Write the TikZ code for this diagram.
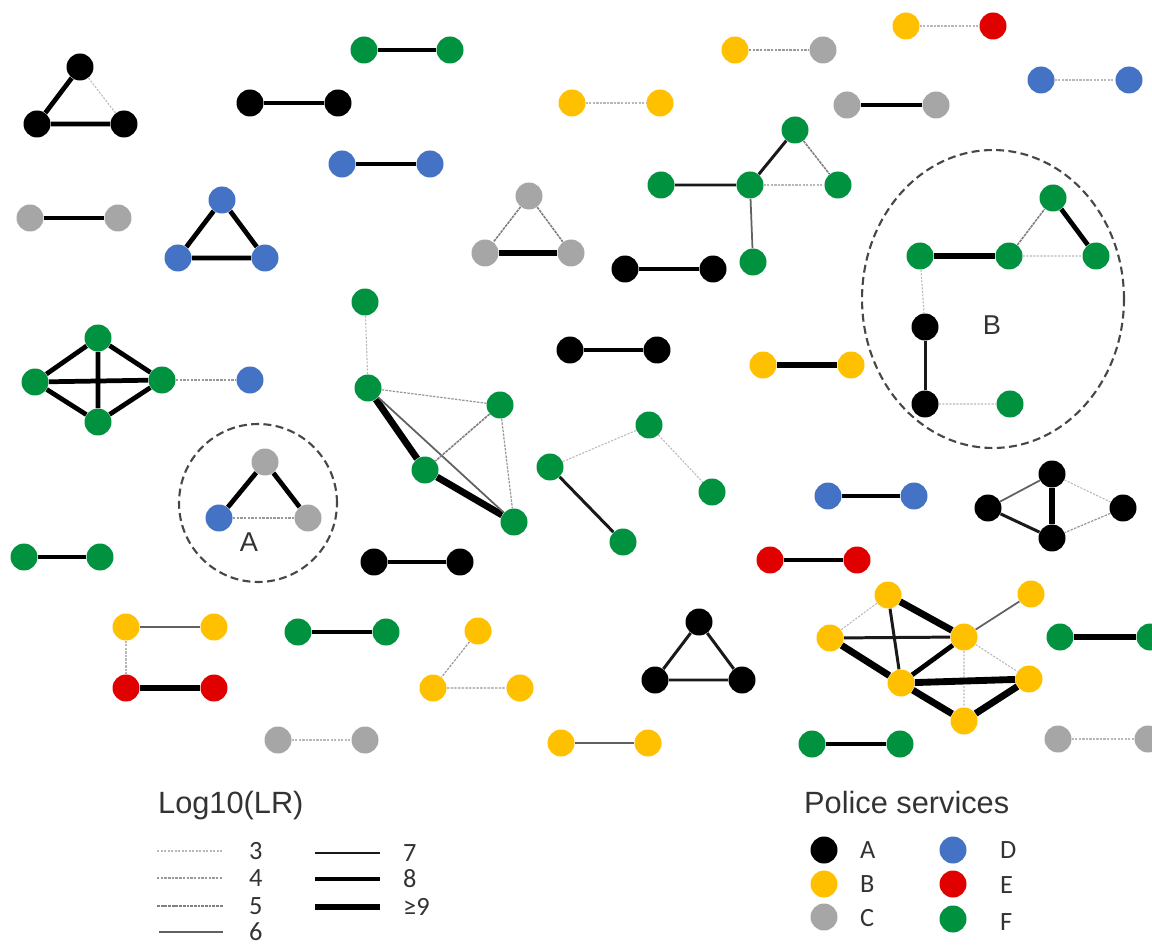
\documentclass[tikz,border=0pt]{standalone}
\usepackage{fontspec}
\usetikzlibrary{shapes.geometric}
\setmainfont{Liberation Sans}
\newfontfamily\calfont{Carlito}
\begin{document}
\begin{tikzpicture}[x=0.02cm,y=-0.02cm,
  nd/.style={circle,inner sep=0pt,minimum size=0.54cm,draw=none},
  nA/.style={nd,fill=black},
  nB/.style={nd,fill=yelB},
  nC/.style={nd,fill=grayC},
  nD/.style={nd,fill=blueD},
  nE/.style={nd,fill=redE},
  nF/.style={nd,fill=greenF},
  w3/.style={draw=black!28,line width=0.6pt,dash pattern=on 1.2pt off 0.8pt},
  w4/.style={draw=black!40,line width=0.7pt,dash pattern=on 1.4pt off 0.7pt},
  w5/.style={draw=black!50,line width=0.9pt,dash pattern=on 1.6pt off 0.5pt},
  w6/.style={draw=black!62,line width=1pt},
  w7/.style={draw=black!90,line width=1.7pt},
  w8/.style={draw=black,line width=2.7pt},
  w9/.style={draw=black,line width=3.9pt},
  grp/.style={draw=black!72,line width=1.2pt,dash pattern=on 4.5pt off 2.5pt},
  ttl/.style={font=\fontsize{17.5}{20}\selectfont,text=black!80},
  lbl/.style={font=\calfont\fontsize{15}{17}\selectfont,text=black!80,anchor=west},
  glbl/.style={font=\fontsize{15.5}{18}\selectfont,text=black!80}
]
\definecolor{yelB}{HTML}{FFC000}
\definecolor{grayC}{HTML}{A6A6A6}
\definecolor{blueD}{HTML}{4472C4}
\definecolor{redE}{HTML}{E00000}
\definecolor{greenF}{HTML}{00923F}
\useasboundingbox (0,0) rectangle (1152,945);

% 1 black triangle
\node[nA] (a1) at (80,67) {};
\node[nA] (a2) at (37,124) {};
\node[nA] (a3) at (124,124) {};
\draw[w8] (a1)--(a2) (a2)--(a3);
\draw[w3] (a1)--(a3);
% 2 black pair
\node[nA] (b1) at (250,103) {};
\node[nA] (b2) at (338,103) {};
\draw[w8] (b1)--(b2);
% 3 green pair
\node[nF] (c1) at (364,50) {};
\node[nF] (c2) at (450,50) {};
\draw[w8] (c1)--(c2);
% 4 blue pair
\node[nD] (d1) at (342,164) {};
\node[nD] (d2) at (430,164) {};
\draw[w8] (d1)--(d2);
% 5 gray pair
\node[nC] (e1) at (30,218) {};
\node[nC] (e2) at (118,218) {};
\draw[w8] (e1)--(e2);
% 6 blue triangle
\node[nD] (f1) at (222,200) {};
\node[nD] (f2) at (178,258) {};
\node[nD] (f3) at (265,258) {};
\draw[w8] (f1)--(f2) (f2)--(f3) (f1)--(f3);
% 7 gray triangle
\node[nC] (g1) at (529,196) {};
\node[nC] (g2) at (485,253) {};
\node[nC] (g3) at (571,253) {};
\draw[w5] (g1)--(g2) (g1)--(g3);
\draw[w9] (g2)--(g3);
% 8 yellow pair
\node[nB] (h1) at (572,103) {};
\node[nB] (h2) at (660,103) {};
\draw[w3] (h1)--(h2);
% 9 yellow-gray
\node[nB] (i1) at (735,50) {};
\node[nC] (i2) at (823,50) {};
\draw[w4] (i1)--(i2);
% 10 yellow-red
\node[nB] (j1) at (906,26) {};
\node[nE] (j2) at (993,26) {};
\draw[w3] (j1)--(j2);
% 11 blue pair
\node[nD] (k1) at (1041,80) {};
\node[nD] (k2) at (1129,80) {};
\draw[w3] (k1)--(k2);
% 12 gray pair
\node[nC] (l1) at (847,105) {};
\node[nC] (l2) at (936,105) {};
\draw[w8] (l1)--(l2);
% 13 green star
\node[nF] (m1) at (795,130) {};
\node[nF] (m2) at (661,185) {};
\node[nF] (m3) at (750,185) {};
\node[nF] (m4) at (838,185) {};
\node[nF] (m5) at (753,262) {};
\draw[w7] (m2)--(m3) (m3)--(m1);
\draw[w5] (m1)--(m4);
\draw[w3] (m3)--(m4);
\draw[w6] (m3)--(m5);
% 14 black pair
\node[nA] (n1) at (625,269) {};
\node[nA] (n2) at (713,269) {};
\draw[w8] (n1)--(n2);
% 15 group B
\node[nF] (o1) at (920,256) {};
\node[nF] (o2) at (1009,256) {};
\node[nF] (o3) at (1053,198) {};
\node[nF] (o4) at (1096,256) {};
\node[nA] (o5) at (925,327) {};
\node[nA] (o6) at (925,404) {};
\node[nF] (o7) at (1010,404) {};
\draw[w9] (o1)--(o2);
\draw[w5] (o2)--(o3);
\draw[w8] (o3)--(o4);
\draw[w3] (o2)--(o4) (o1)--(o5) (o6)--(o7);
\draw[w7] (o5)--(o6);
\node[grp,ellipse,minimum width=5.24cm,minimum height=5.96cm] (grpB) at (993,299) {};
\node[glbl] (labB) at (992,325) {B};
% 16 black pair
\node[nA] (p1) at (570,350) {};
\node[nA] (p2) at (657,350) {};
\draw[w8] (p1)--(p2);
% 17 yellow pair
\node[nB] (q1) at (763,365) {};
\node[nB] (q2) at (851,365) {};
\draw[w9] (q1)--(q2);
% 18 green K4 + blue
\node[nF] (r1) at (98,338) {};
\node[nF] (r2) at (35,382) {};
\node[nF] (r3) at (162,380) {};
\node[nF] (r4) at (98,422) {};
\node[nD] (r5) at (250,380) {};
\draw[w8] (r1)--(r2) (r1)--(r3) (r1)--(r4) (r2)--(r3) (r2)--(r4) (r3)--(r4);
\draw[w4] (r3)--(r5);
% 19 green middle
\node[nF] (s1) at (365,302) {};
\node[nF] (s2) at (368,388) {};
\node[nF] (s3) at (500,405) {};
\node[nF] (s4) at (425,470) {};
\node[nF] (s5) at (514,522) {};
\draw[w3] (s1)--(s2);
\draw[w4] (s2)--(s3) (s3)--(s5);
\draw[w9] (s2)--(s4) (s4)--(s5);
\draw[w6] (s2)--(s5);
\draw[w5] (s3)--(s4);
% 20 green path
\node[nF] (t1) at (649,425) {};
\node[nF] (t2) at (550,467) {};
\node[nF] (t3) at (712,492) {};
\node[nF] (t4) at (623,542) {};
\draw[w3] (t2)--(t1) (t1)--(t3);
\draw[w7] (t2)--(t4);
% 21 group A
\node[nC] (u1) at (265,462) {};
\node[nD] (u2) at (219,518) {};
\node[nC] (u3) at (308,518) {};
\draw[w8] (u1)--(u2) (u1)--(u3);
\draw[w4] (u2)--(u3);
\node[grp,circle,minimum size=3.16cm] (grpA) at (258,503) {};
\node[glbl] (labA) at (249,542) {A};
% 22 blue pair
\node[nD] (v1) at (828,496) {};
\node[nD] (v2) at (914,496) {};
\draw[w8] (v1)--(v2);
% 23 black diamond
\node[nA] (x1) at (1052,474) {};
\node[nA] (x2) at (988,508) {};
\node[nA] (x3) at (1123,508) {};
\node[nA] (x4) at (1052,538) {};
\draw[w6] (x1)--(x2);
\draw[w7] (x2)--(x4);
\draw[w9] (x1)--(x4);
\draw[w3] (x1)--(x3);
\draw[w4] (x3)--(x4);
% 24 green pair
\node[nF] (y1) at (24,557) {};
\node[nF] (y2) at (100,557) {};
\draw[w8] (y1)--(y2);
% 25 black pair
\node[nA] (z1) at (374,562) {};
\node[nA] (z2) at (460,562) {};
\draw[w8] (z1)--(z2);
% 26 red pair
\node[nE] (aa1) at (770,560) {};
\node[nE] (aa2) at (857,560) {};
\draw[w8] (aa1)--(aa2);
% 27 yellow/red
\node[nB] (ab1) at (126,627) {};
\node[nB] (ab2) at (214,627) {};
\node[nE] (ab3) at (126,688) {};
\node[nE] (ab4) at (214,688) {};
\draw[w6] (ab1)--(ab2);
\draw[w3] (ab1)--(ab3);
\draw[w9] (ab3)--(ab4);
% 28 green pair
\node[nF] (ac1) at (298,632) {};
\node[nF] (ac2) at (386,632) {};
\draw[w8] (ac1)--(ac2);
% 29 yellow trio
\node[nB] (ad1) at (478,631) {};
\node[nB] (ad2) at (433,688) {};
\node[nB] (ad3) at (520,688) {};
\draw[w4] (ad1)--(ad2) (ad2)--(ad3);
% 30 black triangle
\node[nA] (ae1) at (699,622) {};
\node[nA] (ae2) at (655,680) {};
\node[nA] (ae3) at (742,680) {};
\draw[w7] (ae1)--(ae2) (ae2)--(ae3) (ae1)--(ae3);
% 31 yellow big
\node[nB] (af1) at (888,595) {};
\node[nB] (af2) at (1031,594) {};
\node[nB] (af3) at (830,638) {};
\node[nB] (af4) at (964,637) {};
\node[nB] (af5) at (901,683) {};
\node[nB] (af6) at (1029,679) {};
\node[nB] (af7) at (964,721) {};
\draw[w3] (af1)--(af3) (af4)--(af6) (af4)--(af7);
\draw[w9] (af1)--(af4) (af3)--(af5) (af5)--(af6) (af5)--(af7) (af7)--(af6);
\draw[w7] (af1)--(af5) (af3)--(af4);
\draw[w8] (af5)--(af4);
\draw[w6] (af4)--(af2);
% 32 green pair (edge)
\node[nF] (ag1) at (1060,637) {};
\node[nF] (ag2) at (1150,637) {};
\draw[w9] (ag1)--(ag2);
% 33 gray pair
\node[nC] (ah1) at (278,740) {};
\node[nC] (ah2) at (365,740) {};
\draw[w3] (ah1)--(ah2);
% 34 yellow pair
\node[nB] (ai1) at (561,743) {};
\node[nB] (ai2) at (648,743) {};
\draw[w6] (ai1)--(ai2);
% 35 green pair
\node[nF] (aj1) at (812,744) {};
\node[nF] (aj2) at (900,744) {};
\draw[w8] (aj1)--(aj2);
% 36 gray pair (edge)
\node[nC] (ak1) at (1058,739) {};
\node[nC] (ak2) at (1148,739) {};
\draw[w3] (ak1)--(ak2);

% Legend Log10(LR)
\node[ttl,anchor=west] (lrT) at (152,806) {Log10(LR)};
\coordinate (l3a) at (157,851); \coordinate (l3b) at (223,851);
\coordinate (l4a) at (157,878); \coordinate (l4b) at (223,878);
\coordinate (l5a) at (157,906); \coordinate (l5b) at (223,906);
\coordinate (l6a) at (159,932); \coordinate (l6b) at (223,932);
\coordinate (l7a) at (315,853); \coordinate (l7b) at (380,853);
\coordinate (l8a) at (315,879); \coordinate (l8b) at (380,879);
\coordinate (l9a) at (315,907); \coordinate (l9b) at (380,907);
\draw[w3] (l3a)--(l3b);
\draw[w4] (l4a)--(l4b);
\draw[w5] (l5a)--(l5b);
\draw[w6] (l6a)--(l6b);
\draw[w7] (l7a)--(l7b);
\draw[w8] (l8a)--(l8b);
\draw[w9] (l9a)--(l9b);
\node[lbl] (t3) at (243,851) {3};
\node[lbl] (t4) at (243,878) {4};
\node[lbl] (t5) at (243,906) {5};
\node[lbl] (t6) at (243,932) {6};
\node[lbl] (t7) at (397,853) {7};
\node[lbl] (t8) at (397,879) {8};
\node[lbl] (t9) at (397,907) {≥9};

% Legend Police services
\node[ttl,anchor=west] (psT) at (798,803) {Police services};
\node[nA] (pA) at (824,850) {};
\node[nB] (pB) at (824,884) {};
\node[nC] (pC) at (824,917) {};
\node[nD] (pD) at (953,850) {};
\node[nE] (pE) at (953,884) {};
\node[nF] (pF) at (953,919) {};
\node[lbl] (tA) at (854,850) {A};
\node[lbl] (tB) at (854,884) {B};
\node[lbl] (tC) at (854,918) {C};
\node[lbl] (tD) at (994,850) {D};
\node[lbl] (tE) at (994,885) {E};
\node[lbl] (tF) at (994,922) {F};
\end{tikzpicture}
\end{document}
